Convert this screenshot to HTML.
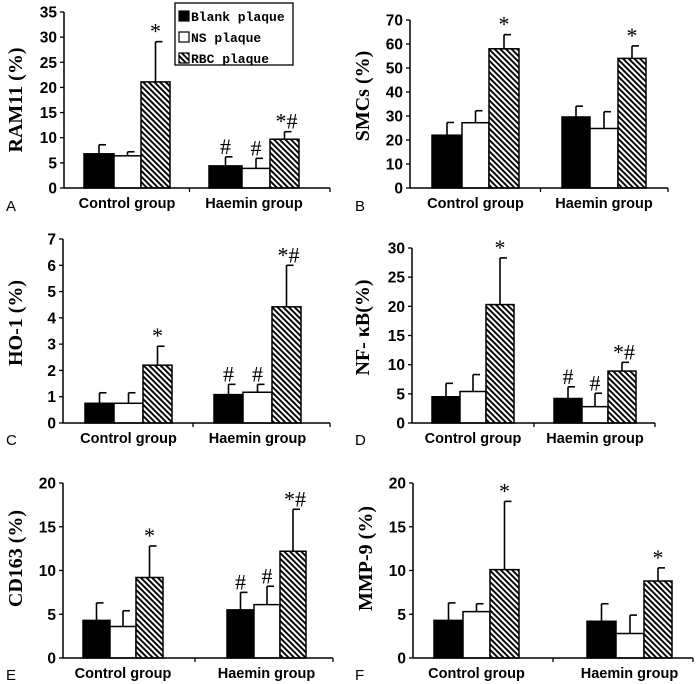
<!DOCTYPE html>
<html><head><meta charset="utf-8">
<style>
html,body{margin:0;padding:0;background:#fff;}
svg{display:block;}
.tick{font-family:"Liberation Sans",Arial,sans-serif;font-weight:bold;font-size:15.5px;}
.ylab{font-family:"Liberation Serif","Times New Roman",serif;font-weight:bold;font-size:20px;}
.xlab{font-family:"Liberation Sans",Arial,sans-serif;font-weight:bold;font-size:14.5px;}
.plet{font-family:"Liberation Sans",Arial,sans-serif;font-size:15px;}
.ann{font-family:"Liberation Serif",serif;font-size:22px;}
.leg{font-family:"Liberation Mono",monospace;font-size:13px;font-weight:bold;}
</style></head>
<body>
<svg id="fig" width="697" height="684" viewBox="0 0 697 684" xmlns="http://www.w3.org/2000/svg">
<defs>
<pattern id="hatch" patternUnits="userSpaceOnUse" width="4" height="4" patternTransform="rotate(45)">
<rect width="4" height="4" fill="#fff"/>
<rect x="0" y="0" width="4" height="1.9" fill="#000"/>
</pattern>
</defs>
</svg>
<script>
const groups=["Control group","Haemin group"];
const series=["Blank plaque","NS plaque","RBC plaque"];
const ramVals=[[6.8,6.4,21.1],[4.4,3.9,9.7]];
const ramErr=[[8.6,7.2,29.1],[6.2,5.9,11.2]];
const ramAnn=[["","","*"],["#","#","*#"]];
const ramTicks=[0,5,10,15,20,25,30,35];
const smcVals=[[22,27.2,58],[29.6,24.8,54]];
const smcErr=[[27.3,32.2,63.9],[34.1,31.8,59.2]];
const smcAnn=[["","","*"],["","","*"]];
const smcTicks=[0,10,20,30,40,50,60,70];
const hoVals=[[0.75,0.75,2.2],[1.08,1.17,4.42]];
const hoErr=[[1.15,1.15,2.92],[1.47,1.47,6.0]];
const hoAnn=[["","","*"],["#","#","*#"]];
const hoTicks=[0,1,2,3,4,5,6,7];
const nfVals=[[4.5,5.4,20.3],[4.2,2.8,8.9]];
const nfErr=[[6.8,8.3,28.3],[6.2,5.1,10.4]];
const nfAnn=[["","","*"],["#","#","*#"]];
const nfTicks=[0,5,10,15,20,25,30];
const cdVals=[[4.3,3.6,9.2],[5.5,6.1,12.2]];
const cdErr=[[6.3,5.4,12.8],[7.5,8.2,17]];
const cdAnn=[["","","*"],["#","#","*#"]];
const cdTicks=[0,5,10,15,20];
const mmpVals=[[4.3,5.3,10.1],[4.2,2.8,8.8]];
const mmpErr=[[6.3,6.2,17.9],[6.2,4.9,10.3]];
const mmpAnn=[["","","*"],["","","*"]];
const mmpTicks=[0,5,10,15,20];

const NS="http://www.w3.org/2000/svg";
const svg=document.getElementById('fig');
function mk(tag,attrs,parent,text){const e=document.createElementNS(NS,tag);for(const k in attrs)e.setAttribute(k,attrs[k]);if(text!==undefined)e.textContent=text;(parent||svg).appendChild(e);return e;}

const fills=["#000","#fff","url(#hatch)"];
function panel(cfg,vals,err,ann,ticks){
  const g=mk('g',{});
  
  
  const max=ticks[ticks.length-1];
  const y=v=>cfg.y0-(v/max)*(cfg.y0-cfg.yTop);
  for(let gi=0;gi<2;gi++){
    const xs=cfg.bx[gi];
    for(let si=0;si<3;si++){
      const x0=xs[si],x1=xs[si+1];
      const v=vals[gi][si],e=err[gi][si];
      const cx=(x0+x1)/2;
      const el=mk('line',{x1:cx,x2:cx,y1:y(v),y2:y(e),stroke:'#000','stroke-width':1.6},g);
      
      
      const cap=mk('line',{x1:cx,x2:cx+7,y1:y(e),y2:y(e),stroke:'#000','stroke-width':1.6},g);
      
      
      const r=mk('rect',{x:x0,y:y(v),width:x1-x0,height:cfg.y0-y(v),fill:fills[si],stroke:'#000','stroke-width':1.5},g);
      
      
      const a=ann[gi][si];
      if(a){
        const t=mk('text',{x:cx+(a.length>1?2:0),y:y(e)-3,'text-anchor':'middle',class:'ann'},g,a);
        
        
      }
    }
    const lx=(xs[0]+xs[3])/2;
    const xl=mk('text',{x:lx,y:cfg.labY,'text-anchor':'middle',class:'xlab'},g,groups[gi]);
    
    
  }
  const ya=mk('line',{x1:cfg.ax,x2:cfg.ax,y1:cfg.yTop,y2:cfg.y0,stroke:'#000','stroke-width':1.5},g);
  
  
  const xa=mk('line',{x1:cfg.ax,x2:cfg.xEnd,y1:cfg.y0,y2:cfg.y0,stroke:'#000','stroke-width':1.5},g);
  
  
  const mid=(cfg.bx[0][3]+cfg.bx[1][0])/2;
  mk('line',{x1:mid,x2:mid,y1:cfg.y0,y2:cfg.y0+4,stroke:'#000','stroke-width':1.3},g);
  mk('line',{x1:cfg.xEnd,x2:cfg.xEnd,y1:cfg.y0,y2:cfg.y0+4,stroke:'#000','stroke-width':1.3},g);
  ticks.forEach(t=>{
    mk('line',{x1:cfg.ax-4,x2:cfg.ax,y1:y(t),y2:y(t),stroke:'#000','stroke-width':1.3},g);
    const tl=mk('text',{x:cfg.ax-7,y:y(t)+5.5,'text-anchor':'end',class:'tick'},g,t);
    
    
  });
  const cy=(cfg.yTop+cfg.y0)/2;
  const yl=mk('text',{x:0,y:0,'text-anchor':'middle',class:'ylab',transform:`translate(${cfg.ylX},${cy+cfg.ylOff}) rotate(-90)`},g,cfg.title);
  
  
  const pl=mk('text',{x:cfg.letX,y:cfg.letY,class:'plet'},g,cfg.id);
  
  
}

panel({id:'A',title:'RAM11 (%)',ax:64,yTop:12,y0:188,xEnd:330,bx:[[84,114,141,170],[209,242,270,299]],labY:208,ylX:22,ylOff:0,letX:6,letY:211},ramVals,ramErr,ramAnn,ramTicks);
panel({id:'B',title:'SMCs (%)',ax:410,yTop:20,y0:188,xEnd:668,bx:[[432,462,489,519],[562,590,618,646]],labY:208,ylX:369,ylOff:-8,letX:355,letY:211},smcVals,smcErr,smcAnn,smcTicks);
panel({id:'C',title:'HO-1 (%)',ax:63,yTop:239,y0:423,xEnd:330,bx:[[85,114,143,172],[214,243,272,301]],labY:443,ylX:22,ylOff:-8,letX:6,letY:445},hoVals,hoErr,hoAnn,hoTicks);
panel({id:'D',title:'NF- κB(%)',ax:412,yTop:248,y0:423,xEnd:655,bx:[[432,460,486,514],[554,582,608,636]],labY:443,ylX:369,ylOff:-8,letX:355,letY:445},nfVals,nfErr,nfAnn,nfTicks);
panel({id:'E',title:'CD163 (%)',ax:63,yTop:483,y0:658,xEnd:333,bx:[[83,110,136,163],[227,254,280,306]],labY:678,ylX:22,ylOff:-12,letX:6,letY:680},cdVals,cdErr,cdAnn,cdTicks);
panel({id:'F',title:'MMP-9 (%)',ax:413,yTop:483,y0:658,xEnd:693,bx:[[434,463,490,519],[587,616,644,672]],labY:678,ylX:372,ylOff:-12,letX:355,letY:680},mmpVals,mmpErr,mmpAnn,mmpTicks);

const lg=mk('g',{});


mk('rect',{x:175,y:3,width:118,height:62,fill:'#fff',stroke:'#000','stroke-width':1.3},lg);
series.forEach((s,i)=>{
  const yy=11+i*21;
  const sw=mk('rect',{x:179,y:yy,width:10,height:10,fill:fills[i],stroke:'#000','stroke-width':1.2},lg);
  
  
  const t=mk('text',{x:191,y:yy+10,class:'leg'},lg,s);
  
  
});
</script>
</body></html>
